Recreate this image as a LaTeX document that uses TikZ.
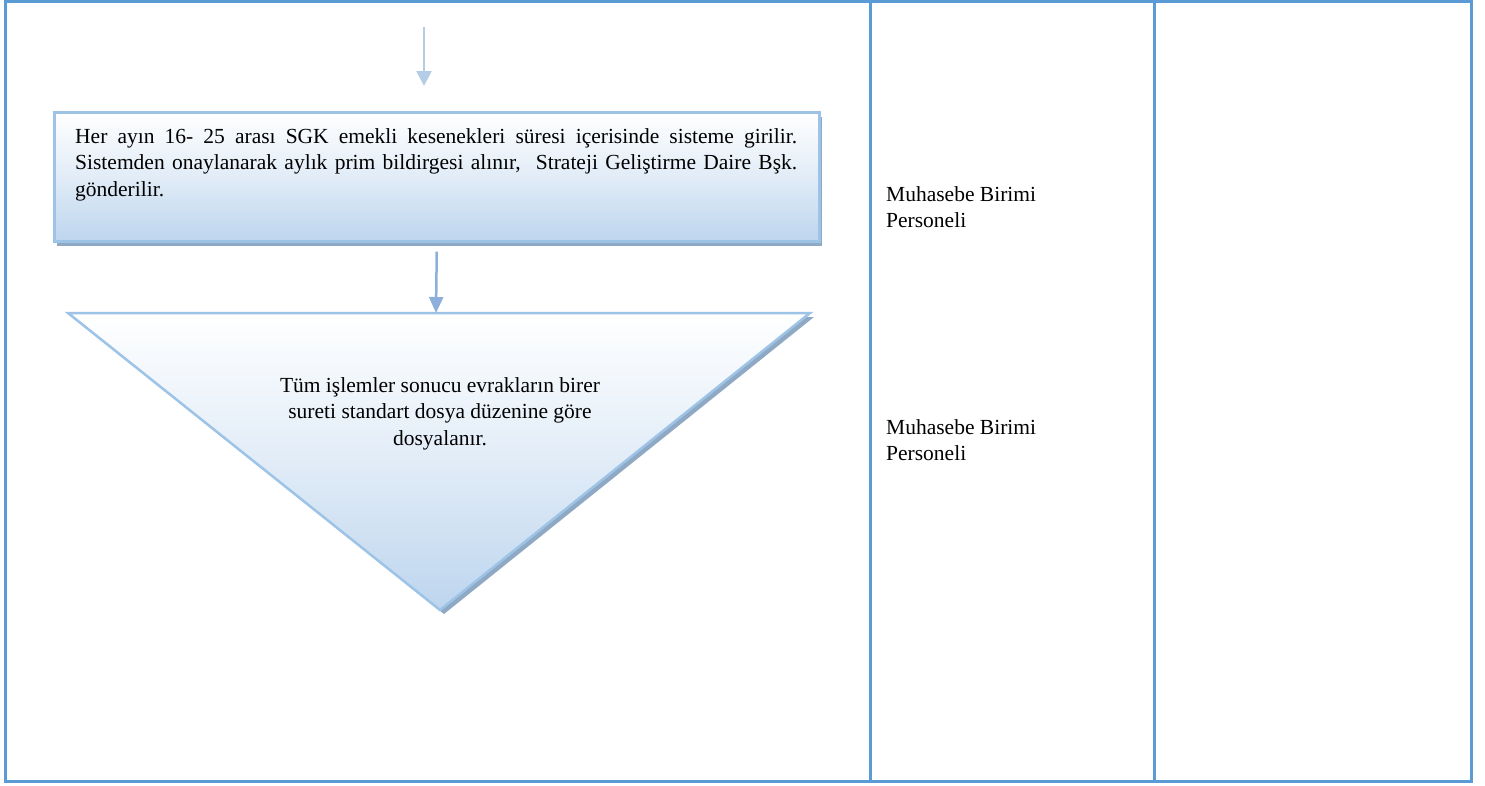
\documentclass[tikz,border=0pt]{standalone}
\usepackage{fontspec}
\setmainfont{Liberation Serif}
\usetikzlibrary{shadows,arrows.meta}
\definecolor{framec}{HTML}{5B9BD5}
\definecolor{boxedge}{HTML}{9DC3E6}
\definecolor{boxfill}{HTML}{BDD5EE}
\definecolor{shadowc}{HTML}{8FA9C4}
\definecolor{arrowA}{HTML}{B5CCE6}
\definecolor{arrowB}{HTML}{8EAFD9}
\tikzset{
  frameline/.style={draw=framec, line width=3pt},
  procbox/.style={draw=boxedge, line width=2.5pt, top color=white, bottom color=boxfill,
    middle color=boxfill!45!white, inner sep=0pt,
    drop shadow={shadow xshift=3pt, shadow yshift=-5pt, fill=shadowc, opacity=1}},
  bodytext/.style={font=\fontsize{21.5}{26.5}\selectfont, inner sep=0pt},
  flowA/.style={draw=arrowA, line width=2.5pt, -{Triangle[width=15pt,length=15pt]}},
  flowB/.style={draw=arrowB, line width=2.5pt, -{Triangle[width=14pt,length=16pt]}},
}
\begin{document}
\begin{tikzpicture}[x=1pt,y=-1pt]
\useasboundingbox (0,0) rectangle (1485,785);
% frame and lanes
\draw[frameline] (5.3,1.3) rectangle (1471.5,781.5);
\draw[frameline] (870,1.3) -- (870,781.5);
\draw[frameline] (1154.5,1.3) -- (1154.5,781.5);

% top arrow
\coordinate (start) at (424,27);
\coordinate (startend) at (424,86);
\draw[flowA] (start) -- (startend);

% process box
\node[procbox, anchor=north west, minimum width=765pt, minimum height=129pt] (box) at (53,111) {};
\node[bodytext, anchor=north west, text width=722pt, align=justify] (boxtext) at (75,128)
{Her ayın 16- 25 arası SGK emekli kesenekleri süresi içerisinde sisteme girilir.\linebreak
Sistemden onaylanarak aylık prim bildirgesi alınır, \ Strateji Geliştirme Daire Bşk.\linebreak
gönderilir.};

% triangle (file)
\coordinate (tl) at (68,313);
\coordinate (tr) at (810,313);
\coordinate (tb) at (440,610);
\coordinate (tritop) at (436,313);
\fill[shadowc] ([shift={(4,4)}]tl) -- ([shift={(4,4)}]tr) -- ([shift={(4,4)}]tb) -- cycle;
\shade[top color=white, bottom color=boxfill, middle color=boxfill!45!white] (tl) -- (tr) -- (tb) -- cycle;
\draw[boxedge, line width=2.5pt, line join=miter] (tl) -- (tr) -- (tb) -- cycle;
\node[bodytext, anchor=north, align=center] (tritext) at (440,377)
{Tüm işlemler sonucu evrakların birer\\sureti standart dosya düzenine göre\\dosyalanır.};

\draw[flowB] ([yshift=-9pt]box.south) -- (tritop);

% lane labels
\node[bodytext, anchor=north west, align=left] (lab1) at (886,186) {Muhasebe Birimi\\Personeli};
\node[bodytext, anchor=north west, align=left] (lab2) at (886,419) {Muhasebe Birimi\\Personeli};
\end{tikzpicture}
\end{document}
